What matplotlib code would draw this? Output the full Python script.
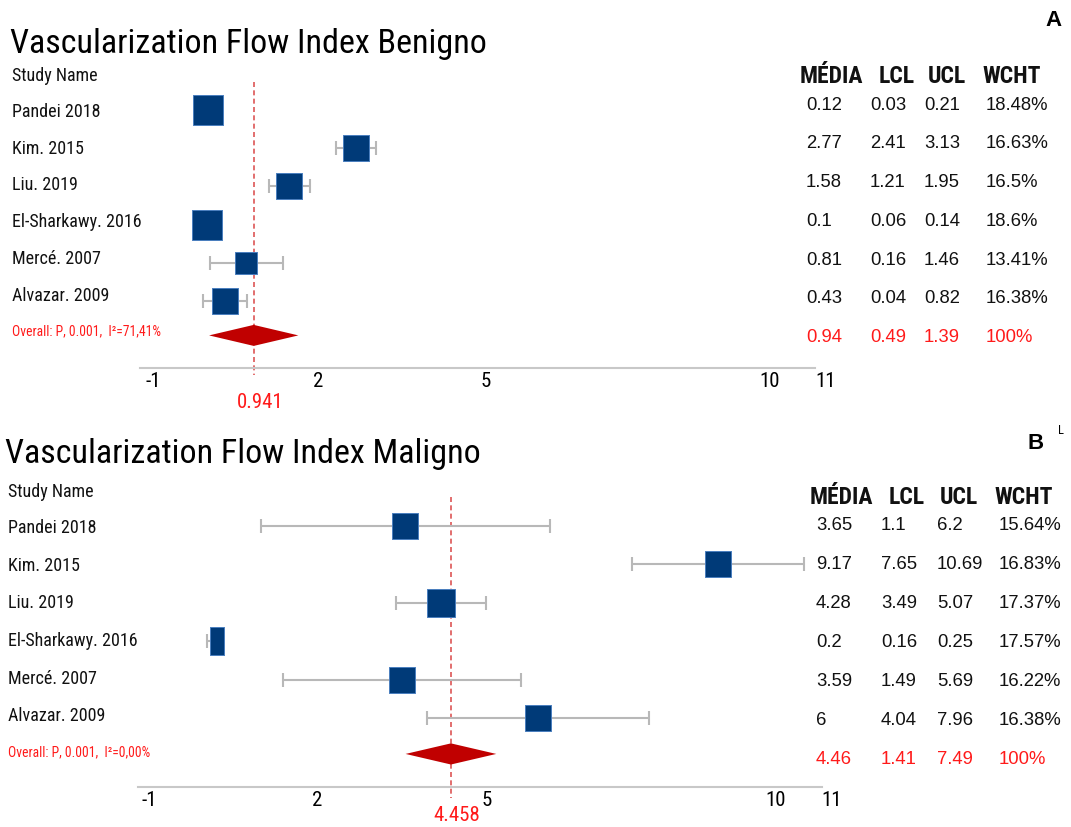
import matplotlib
matplotlib.use('Agg')
import matplotlib.pyplot as plt
from matplotlib import font_manager
from matplotlib.markers import MarkerStyle
from matplotlib.transforms import blended_transform_factory, offset_copy

installed = {f.name for f in font_manager.fontManager.ttflist}
NARROW = next((f for f in ['Liberation Sans Narrow', 'Roboto Condensed'] if f in installed), 'DejaVu Sans')
PLAIN = 'Liberation Sans'

studies = ['Pandei 2018', 'Kim. 2015', 'Liu. 2019', 'El-Sharkawy. 2016', 'Mercé. 2007', 'Alvazar. 2009']
columns = ['MÉDIA', 'LCL', 'UCL', 'WCHT']
ticks = [-1, 2, 5, 10, 11]

# Benigno
ben_mean = [0.12, 2.77, 1.58, 0.1, 0.81, 0.43]
ben_lcl = [0.03, 2.41, 1.21, 0.06, 0.16, 0.04]
ben_ucl = [0.21, 3.13, 1.95, 0.14, 1.46, 0.82]
ben_weight = [18.48, 16.63, 16.5, 18.6, 13.41, 16.38]
ben_overall = [0.941, 0.49, 1.39, 100]
ben_het = 'Overall: P, 0.001,  I²=71,41%'

# Maligno
mal_mean = [3.65, 9.17, 4.28, 0.2, 3.59, 6]
mal_lcl = [1.1, 7.65, 3.49, 0.16, 1.49, 4.04]
mal_ucl = [6.2, 10.69, 5.07, 0.25, 5.69, 7.96]
mal_weight = [15.64, 16.83, 17.37, 17.57, 16.22, 16.38]
mal_overall = [4.458, 1.41, 7.49, 100]
mal_het = 'Overall: P, 0.001,  I²=0,00%'

W, H = 1071, 827
fig = plt.figure(figsize=(W / 100, H / 100), dpi=100)

NAVY = '#003a78'
RED = '#ff1a1a'


def fmt(v):
    return f'{v:g}'


def forest(title, mean, lcl, ucl, weight, overall, het, lay, half=()):
    l, t, r, b = lay['box']
    ax = fig.add_axes([l / W, 1 - b / H, (r - l) / W, (b - t) / H])
    ax.set_xlim(*lay['xlim'])
    ax.set_ylim(lay['ylim'][1], lay['ylim'][0])
    for s in ['left', 'top', 'right']:
        ax.spines[s].set_visible(False)
    ax.spines['bottom'].set_color('#c8c8c8')
    ax.spines['bottom'].set_linewidth(1.5)
    ax.set_yticks([])
    ax.set_xticks(ticks, [str(v) for v in ticks])
    ax.tick_params(axis='x', length=0, pad=3, labelsize=15)
    for lb in ax.get_xticklabels():
        lb.set_ha('left')
        lb.set_family(NARROW)

    rows = list(range(len(studies)))
    ax.errorbar(mean, rows,
                xerr=[[m - lo for m, lo in zip(mean, lcl)], [u - m for m, u in zip(mean, ucl)]],
                fmt='none', ecolor='#b8b8b8', elinewidth=1.5, capsize=4.7, capthick=1.5, zorder=2)
    for i, (m, w) in enumerate(zip(mean, weight)):
        side = 1.6 * w * 0.72
        mk = MarkerStyle('s', fillstyle='right') if studies[i] in half else 's'
        ax.scatter([m], [i], marker=mk, s=side ** 2, color=NAVY,
                   edgecolors='#4a7fbf', linewidths=0.7, zorder=3)

    c = overall[0]
    hw, hh, dr = 0.8, 0.275, lay['diamond_row']
    ax.fill([c - hw, c, c + hw, c], [dr, dr - hh, dr, dr + hh], color='#c00000', lw=0, zorder=3)
    ax.plot([c, c], lay['dash'], ls=(0, (3, 2)), color='#dd5555', lw=1.2, clip_on=False, zorder=1)
    ax.text(c, lay['value_row'], f'{c:.3f}', ha='center', va='center', color=RED,
            fontsize=15, family=NARROW, clip_on=False,
            transform=offset_copy(ax.transData, fig=fig, x=6, units='dots'))

    tr = blended_transform_factory(fig.transFigure, ax.transData)

    def tx(xp, row, s, **kw):
        ax.text(xp / W, row, s, transform=tr, va='center', clip_on=False, **kw)

    fig.text(lay['title'][0] / W, 1 - lay['title'][1] / H, title, fontsize=24.5,
             family=NARROW, va='baseline', ha='left')

    # study names
    nx, n0, nstep = lay['names']
    tx(nx, lay['names_head'], 'Study Name', fontsize=13, family=NARROW, color='#111111')
    for i, name in enumerate(studies):
        tx(nx, n0 + nstep * i, name, fontsize=13, family=NARROW, color='#111111')
    tx(nx, lay['het_row'], het, fontsize=9.8, family=NARROW, color=RED)

    # table
    t0, tstep = lay['table']
    for xp, col in zip(lay['head_x'], columns):
        tx(xp, lay['table_head'], col, fontsize=17, family=NARROW, weight='bold', color='#111111')
    for i in range(len(studies)):
        vals = [fmt(mean[i]), fmt(lcl[i]), fmt(ucl[i]), fmt(weight[i]) + '%']
        for xp, v in zip(lay['val_x'], vals):
            tx(xp, t0 + tstep * i, v, fontsize=13.3, family=PLAIN, color='#111111')
    ovals = [f'{overall[0]:.2f}', fmt(overall[1]), fmt(overall[2]), fmt(overall[3]) + '%']
    for xp, v in zip(lay['val_x'], ovals):
        tx(xp, t0 + tstep * len(studies), v, fontsize=13.3, family=PLAIN, color=RED)
    return ax


forest('Vascularization Flow Index Benigno', ben_mean, ben_lcl, ben_ucl, ben_weight,
       ben_overall, ben_het,
       dict(box=(140, 60.3, 815, 367.5), xlim=(-1.097, 10.979), ylim=(-1.3, 6.74),
            diamond_row=5.9, dash=(-0.73, 6.94), value_row=7.66,
            title=(10, 53), names=(12, 0.05, 0.963), names_head=-0.88, het_row=5.8,
            table=(-0.13, 1.015), table_head=-0.87,
            head_x=[800, 879, 928, 982], val_x=[806, 870, 924, 986]))

forest('Vascularization Flow Index Maligno', mal_mean, mal_lcl, mal_ucl, mal_weight,
       mal_overall, mal_het,
       dict(box=(138, 476, 822, 787), xlim=(-1.064, 11.006), ylim=(-1.3, 6.79),
            diamond_row=5.93, dash=(-0.75, 7.07), value_row=7.52,
            title=(5, 463), names=(8, 0.05, 0.98), names_head=-0.88, het_row=5.9,
            table=(-0.01, 1.016), table_head=-0.74,
            head_x=[810, 889, 940, 994], val_x=[816, 881, 937, 999]),
       half=('El-Sharkawy. 2016',))

fig.text(1053 / W, 1 - 21 / H, 'A', fontsize=16, fontweight='bold', family=PLAIN, ha='center', va='center')
fig.text(1036 / W, 1 - 443 / H, 'B', fontsize=16, fontweight='bold', family=PLAIN, ha='center', va='center')
fig.text(1058 / W, 1 - 430 / H, 'L', fontsize=9, family=NARROW, ha='left', va='center')

fig.savefig('out.png', dpi=100)
